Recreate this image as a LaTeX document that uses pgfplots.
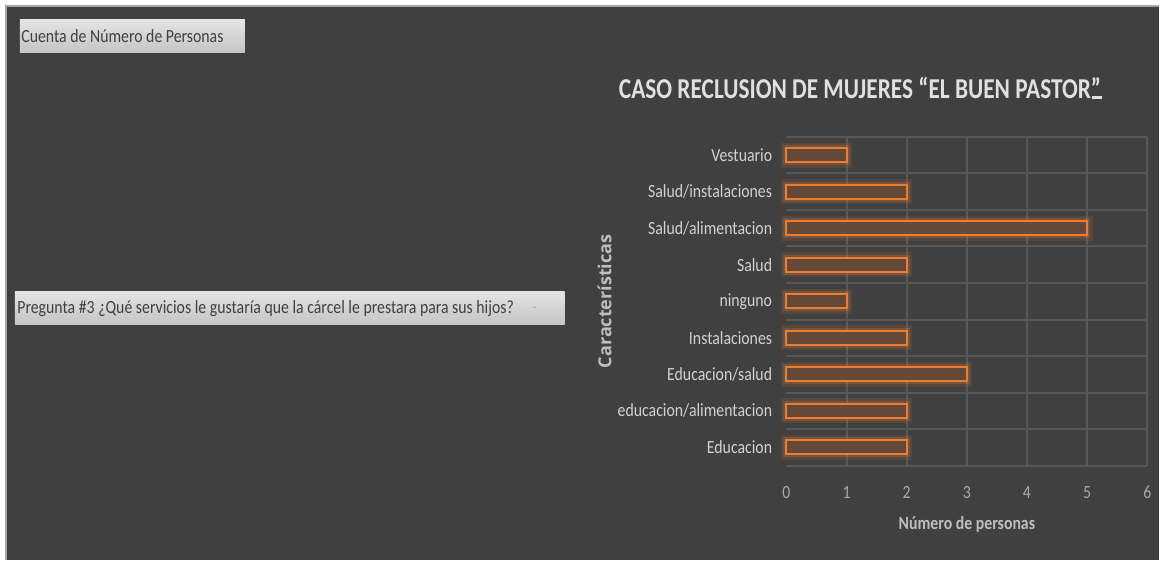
\documentclass[border=0pt]{standalone}
\usepackage{fontspec}
\setmainfont[FakeStretch=0.85]{Carlito}
\newfontfamily\titlefont[FakeStretch=0.81]{Carlito}
\newfontfamily\osans{Open Sans}
\usepackage{pgfplots}
\pgfplotsset{compat=1.18}
\definecolor{bg}{RGB}{64,64,64}
\definecolor{gridc}{RGB}{88,88,88}
\definecolor{lbl}{RGB}{210,210,210}
\definecolor{tickc}{RGB}{170,170,170}
\definecolor{axlbl}{RGB}{190,190,190}
\definecolor{titlec}{RGB}{224,224,224}
\definecolor{barline}{RGB}{237,125,49}
\definecolor{barfill}{RGB}{100,72,56}
\definecolor{boxtxt}{RGB}{64,64,64}
\begin{document}
\begin{tikzpicture}[x=0.5bp,y=0.5bp]
\fill[white] (0,0) rectangle (1160,560);
\fill[bg] (6,0) rectangle (1160,554);
\draw[gray!70, line width=0.8bp] (6,0) -- (6,554) -- (1160,554);
% boxes
\shade[top color={rgb,255:red,228;green,228;blue,228}, bottom color={rgb,255:red,196;green,196;blue,196}] (20,540) rectangle (245,507);
\node[anchor=west, inner sep=0pt, text=boxtxt, font=\fontsize{9.3bp}{11bp}\selectfont] at (21,523.5) {Cuenta de Número de Personas};
\shade[top color={rgb,255:red,228;green,228;blue,228}, bottom color={rgb,255:red,196;green,196;blue,196}] (15,268) rectangle (565,235);
\node[anchor=west, inner sep=0pt, text=boxtxt, font=\fontsize{9.3bp}{11bp}\selectfont] at (17,251.5) {Pregunta \#3 ¿Qué servicios le gustaría que la cárcel le prestara para sus hijos?};
\node[inner sep=0pt, text=gray, font=\fontsize{5bp}{6bp}\selectfont] at (535,251) {-};
% title
\node[anchor=base west, inner sep=0pt, text=titlec, font=\titlefont\bfseries\fontsize{14.4bp}{16bp}\selectfont] at (619,461) {CASO RECLUSION DE MUJERES “EL BUEN PASTOR”\kern-4.5bp\rule{5bp}{1.3bp}};
\begin{axis}[
  at={(393.5bp,47bp)}, anchor=south west, scale only axis,
  width=180.5bp, height=164.5bp,
  xbar, bar shift=0pt, bar width=7bp,
  xmin=0, xmax=6, ymin=-0.5, ymax=8.5,
  axis line style={draw=none},
  xtick={1,...,6}, extra x ticks={0}, extra x tick style={grid=none},
  xmajorgrids, grid style={gridc, line width=1bp},
  ytick={0,...,8},
  yticklabels={Educacion, educacion/alimentacion, Educacion/salud, Instalaciones, ninguno, Salud, Salud/alimentacion, Salud/instalaciones, Vestuario},
  minor ytick={-0.5,0.5,...,8.5}, yminorgrids, minor grid style={gridc, line width=1bp},
  major tick length=0pt, minor tick length=0pt,
  /pgf/number format/assume math mode=true,
  xticklabel style={anchor=center, yshift=-13.5bp, text=tickc, font=\fontsize{9.3bp}{11bp}\selectfont},
  yticklabel style={anchor=east, inner sep=0pt, xshift=-7bp, text=lbl, font=\fontsize{9.3bp}{11bp}\selectfont},
  xlabel={Número de personas},
  xlabel style={at={(axis description cs:0.5,-0.179)}, anchor=center, text=axlbl, font=\bfseries\fontsize{9.3bp}{11bp}\selectfont},
  ylabel={Características},
  ylabel style={at={(axis description cs:-0.504,0.5)}, anchor=center, text=axlbl, font=\osans\bfseries\fontsize{9bp}{11bp}\selectfont},
  clip=false,
]
\addplot[draw=barline, draw opacity=0.12, line width=5.5bp, fill=none] coordinates {(2,0) (2,1) (3,2) (2,3) (1,4) (2,5) (5,6) (2,7) (1,8)};
\addplot[draw=barline, draw opacity=0.22, line width=3bp, fill=none] coordinates {(2,0) (2,1) (3,2) (2,3) (1,4) (2,5) (5,6) (2,7) (1,8)};
\addplot[draw=barline, line width=1bp, fill=barfill] coordinates {(2,0) (2,1) (3,2) (2,3) (1,4) (2,5) (5,6) (2,7) (1,8)};
\end{axis}
\end{tikzpicture}
\end{document}
